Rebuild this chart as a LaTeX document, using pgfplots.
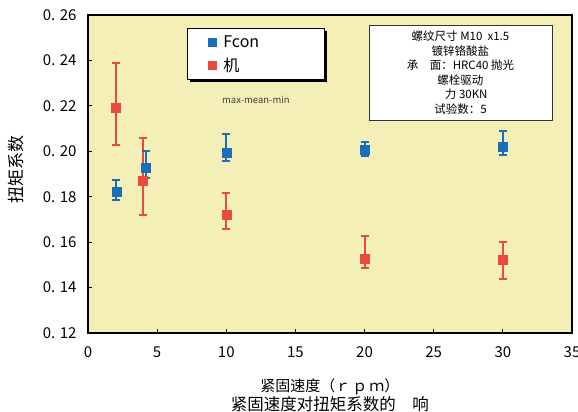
\documentclass[border=0pt]{standalone}
\usepackage{fontspec}
\setmainfont{Noto Sans CJK SC}
\usepackage{pgfplots}
\pgfplotsset{compat=1.18}
\usepackage{pgfplotstable}
\usetikzlibrary{shadows}

\definecolor{bg}{HTML}{F4EFB6}
\definecolor{cblue}{HTML}{1A6FBA}
\definecolor{cred}{HTML}{E84A3B}

\pgfplotstableread{
x y ep em
2 0.2194 0.0193 0.0166
3.95 0.1870 0.0188 0.0149
10 0.1721 0.0097 0.0062
20 0.1529 0.0097 0.0041
30 0.1521 0.0079 0.0083
}\redtab
\pgfplotstableread{
x y ep em
2.05 0.1824 0.0048 0.0037
4.2 0.1928 0.0072 0.0047
10 0.1995 0.0082 0.0038
20 0.2006 0.0034 0.0027
30 0.2020 0.0068 0.0035
}\bluetab

\begin{document}
\begin{tikzpicture}
\begin{axis}[
  scale only axis, width=484bp, height=318bp,
  xmin=0, xmax=35, ymin=0.12, ymax=0.26,
  xtick={0,5,10,15,20,25,30,35},
  ytick={0.12,0.14,0.16,0.18,0.20,0.22,0.24,0.26},
  yticklabels={0. 12,0. 14,0. 16,0. 18,0. 20,0. 22,0. 24,0. 26},
  axis background/.style={fill=bg},
  axis line style={line width=1.4bp},
  tick align=inside, tick pos=left,
  major tick length=4bp,
  tick style={black, line width=1.2bp},
  ticklabel style={font=\fontsize{15bp}{15bp}\selectfont},
  yticklabel style={xshift=-8bp},
  xticklabel style={yshift=-10bp},
  /pgf/number format/assume math mode=true,
  xlabel={{\fontsize{15bp}{19bp}\selectfont 紧固速度（ｒ\hspace{2bp}ｐ\hspace{2bp}ｍ）}\\{\fontsize{16.5bp}{19bp}\selectfont 紧固速度对扭矩系数的　响}},
  xlabel style={at={(axis description cs:0.5,0)}, anchor=north, yshift=-45bp,
    align=center, inner sep=0pt, font=\fontsize{16.5bp}{19bp}\selectfont},
  ylabel={扭矩系数},
  ylabel style={at={(axis description cs:-0.149,0.513)}, anchor=center,
    inner sep=0pt, font=\fontsize{17bp}{17bp}\selectfont},
  legend style={at={(axis description cs:0.2045,0.959)}, anchor=north west,
    draw=black, line width=0.8bp, fill=white,
    drop shadow={shadow xshift=2.5bp, shadow yshift=-2.5bp, fill=black, opacity=1},
    font=\fontsize{16bp}{16bp}\selectfont,
    inner xsep=21bp, inner ysep=5bp, row sep=5bp},
  legend cell align=left,
]
\addplot[forget plot, only marks, mark=square*, mark size=4.5bp, color=cred,
  error bars/y dir=both, error bars/y explicit,
  error bars/error bar style={line width=2bp, cred},
  error bars/error mark options={rotate=90, mark size=4bp, line width=2bp, cred}]
  table[x=x, y=y, y error plus=ep, y error minus=em] {\redtab};
\addplot[forget plot, only marks, mark=square*, mark size=4.5bp, color=cblue,
  error bars/y dir=both, error bars/y explicit,
  error bars/error bar style={line width=2bp, cblue},
  error bars/error mark options={rotate=90, mark size=4bp, line width=2bp, cblue}]
  table[x=x, y=y, y error plus=ep, y error minus=em] {\bluetab};
\addlegendimage{only marks, mark=square*, mark size=4bp, color=cblue}
\addlegendentry{\makebox[83bp][l]{\hspace{5bp}Fcon}}
\addlegendimage{only marks, mark=square*, mark size=4bp, color=cred}
\addlegendentry{\makebox[83bp][l]{\hspace{5bp}机}}

\node[font=\fontsize{9.5bp}{9.5bp}\selectfont, text=black!75] at (axis description cs:0.347,0.733) {max-mean-min};
\node[draw=black!80, line width=0.8bp, fill=white, align=center,
  drop shadow={shadow xshift=1.2bp, shadow yshift=-1.2bp, fill=black!70, opacity=1},
  minimum width=183bp, minimum height=95bp, inner sep=3bp,
  font=\fontsize{11.5bp}{14.6bp}\selectfont]
  at (axis description cs:0.7696,0.819)
  {螺纹尺寸 M10\ \ x1.5\\镀锌铬酸盐\\承　面：HRC40 抛光\\螺栓驱动\\　力 30KN\\试验数：5};
\end{axis}
\pgfresetboundingbox
\path (current axis.south west) ++(-88bp,-79bp) rectangle ++(578bp,412bp);
\end{tikzpicture}
\end{document}
